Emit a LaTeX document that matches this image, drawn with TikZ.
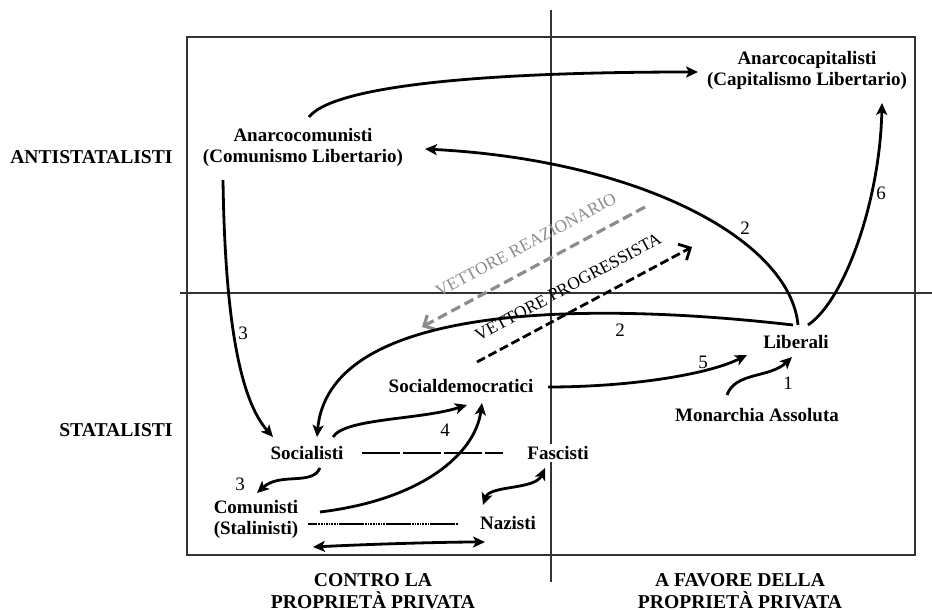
\documentclass[tikz,border=0pt]{standalone}
\usepackage{fontspec}
\setmainfont{Liberation Serif}
\usetikzlibrary{positioning,arrows,arrows.meta,calc}
\tikzset{
	>={Stealth[length=6pt, width=5.5pt, inset=1.5pt]}
}

\begin{document}
\begin{tikzpicture}[
x = 0.5pt,
y = -0.5pt,
every node/.style = {
	font = \fontsize{9.5}{10.5}\selectfont
},
party/.style = {
	font = \bfseries\fontsize{9.5}{10.5}\selectfont,
	align = center,
	fill = white,
	inner sep = 1pt
},
axislabel/.style = {
	font = \bfseries\fontsize{9.8}{11}\selectfont,
	align = center,
	inner sep = 1pt
},
num/.style = {
	inner sep = 0pt
},
axisline/.style = {
	draw = black!80,
	line width = 0.9pt
},
move/.style = {
	->,
	line width = 1.4pt
},
vectxt/.style = {
	font = \fontsize{8.7}{10}\selectfont,
	rotate = 28.3,
	inner sep = 0pt
},
vecreaz/.style = {
	-{Straight Barb[length=4pt, width=8pt]},
	draw = black!45,
	line width = 1.6pt,
	dash pattern = on 5pt off 2.5pt
},
vecprog/.style = {
	-{Straight Barb[length=4.5pt, width=9pt]},
	line width = 1.4pt,
	dash pattern = on 4.5pt off 2pt
}
]
\useasboundingbox (0,0) rectangle (932,610);

% frame and axes
\draw[axisline] (187,37) rectangle (915,555);
\draw[axisline] (180,293) -- (932,293);
\draw[axisline] (551,10) -- (551,582);

% axis labels
\node (antistat) [axislabel, anchor = east] at (175,157) {ANTISTATALISTI};
\node (stat) [axislabel, anchor = east] at (175,430) {STATALISTI};
\node (contro) [axislabel] at (373,591) {CONTRO LA\\PROPRIETÀ PRIVATA};
\node (favore) [axislabel] at (740,591) {A FAVORE DELLA\\PROPRIETÀ PRIVATA};

% positions
\node (anarcocap) [party] at (807,70) {Anarcocapitalisti\\(Capitalismo Libertario)};
\node (anarcocom) [party] at (303,147) {Anarcocomunisti\\(Comunismo Libertario)};
\node (socdem) [party] at (461,386) {Socialdemocratici};
\node (soc) [party] at (307,453) {Socialisti};
\node (fasc) [party] at (558,453) {Fascisti};
\node (com) [party] at (256,519) {Comunisti\\(Stalinisti)};
\node (naz) [party] at (508,523) {Nazisti};
\node (lib) [party] at (796,342) {Liberali};
\node (mon) [party] at (757,415) {Monarchia Assoluta};

% vectors
\coordinate (rztail) at (645,207);
\coordinate (rzhead) at (422,327);
\coordinate (prtail) at (477,362);
\coordinate (prhead) at (692,247);
\draw[vecreaz] (rztail) -- (rzhead);
\draw[vecprog] (prtail) -- (prhead);
\node (rztxt) [vectxt, text = black!45] at (526,245) {VETTORE REAZIONARIO};
\node (prtxt) [vectxt] at (568,287) {VETTORE PROGRESSISTA};

% links between positions
\draw[line width = 1.2pt, dash pattern = on 19pt off 1.5pt] ([shift={(55,0)}]soc.center) -- ([shift={(-55,0)}]fasc.center);
\draw[line width = 1.2pt, dash pattern = on 0.8pt off 0.5pt] ([shift={(52,5)}]com.center) -- ([shift={(-50,1)}]naz.center);
\draw[line width = 1.2pt, dash pattern = on 11.5pt off 11.5pt, dash phase = 7pt] ([shift={(52,5)}]com.center) -- ([shift={(-50,1)}]naz.center);

% moves
\draw[move] ([shift={(6,-30)}]anarcocom.center) .. controls +(21,-27) and +(-248,0) .. ([shift={(-109,2)}]anarcocap.center);
\draw[move] ([shift={(2,-17)}]lib.center) .. controls +(-8,-85) and +(215,11) .. ([shift={(122,2)}]anarcocom.center);
\draw[move] ([shift={(12,-17)}]lib.center) .. controls +(37,-25) and +(-2,97) .. ([shift={(75,33)}]anarcocap.center);
\draw[move] ([shift={(-3,-17)}]lib.center) .. controls +(-173,-20) and +(13,-142) .. ([shift={(10,-16)}]soc.center);
\draw[move] ([shift={(-80,33)}]anarcocom.center) .. controls +(2,140) and +(-33,-37) .. ([shift={(-34,-16)}]soc.center);
\draw[move] ([shift={(13,15)}]soc.center) .. controls +(-8,18) and +(23,-21) .. ([shift={(1,-26)}]com.center);
\draw[move] ([shift={(26,-16)}]soc.center) .. controls +(12,-19) and +(-47,15) .. ([shift={(6,19)}]socdem.center);
\draw[move] ([shift={(64,-7)}]com.center) .. controls +(100,-12) and +(-7,52) .. ([shift={(21,17)}]socdem.center);
\draw[move, <->] ([shift={(57,28)}]com.center) .. controls +(60,-3) and +(-40,0) .. ([shift={(-23,19)}]naz.center);
\draw[move, <->] ([shift={(-25,-18)}]naz.center) .. controls +(7,-20) and +(-10,22) .. ([shift={(-13,15)}]fasc.center);
\draw[move] ([shift={(87,1)}]socdem.center) .. controls +(80,0) and +(-40,20) .. ([shift={(-49,13)}]lib.center);
\draw[move] ([shift={(-30,-20)}]mon.center) .. controls +(8,-23) and +(-22,21) .. ([shift={(-4,15)}]lib.center);

% numbers
\node (n1) [num] at (788,383) {1};
\node (n2a) [num] at (745,228) {2};
\node (n2b) [num] at (620,330) {2};
\node (n3a) [num] at (243,333) {3};
\node (n3b) [num] at (240,484) {3};
\node (n4) [num] at (445,430) {4};
\node (n5) [num] at (703,362) {5};
\node (n6) [num] at (881,193) {6};

\end{tikzpicture}
\end{document}
